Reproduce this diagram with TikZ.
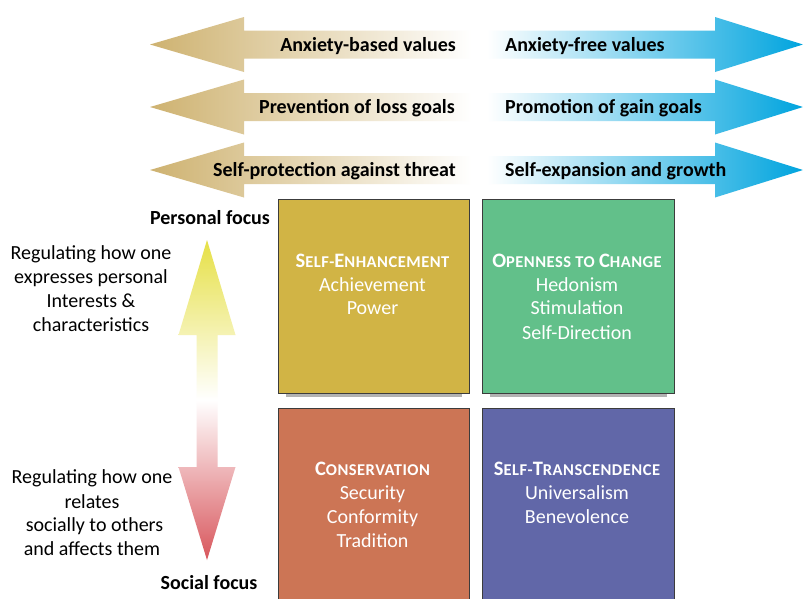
\documentclass[tikz,border=0pt]{standalone}
\usepackage{fontspec}
\setmainfont{Carlito}
\definecolor{tanC}{RGB}{206,178,112}
\definecolor{cyanC}{RGB}{0,164,222}
\definecolor{yelC}{RGB}{230,224,70}
\definecolor{redC}{RGB}{216,86,92}
\definecolor{boxA}{RGB}{209,180,69}
\definecolor{boxB}{RGB}{98,192,138}
\definecolor{boxC}{RGB}{204,117,85}
\definecolor{boxD}{RGB}{97,103,168}
\definecolor{edgeC}{RGB}{60,60,60}
\newcommand{\bigS}[1]{{\fontsize{20.5}{24}\selectfont #1}}
\newcommand{\smS}[1]{{\fontsize{16.5}{24}\selectfont\addfontfeature{LetterSpace=3}#1}}
\tikzset{
  txt/.style={inner sep=0pt, font=\fontsize{20}{24}\selectfont, text=black},
  btxt/.style={txt, font=\fontsize{20}{24}\selectfont\bfseries},
  wtxt/.style={inner sep=0pt, font=\fontsize{20}{24}\selectfont, text=white, anchor=base},
  htxt/.style={inner sep=0pt, font=\bfseries, text=white, anchor=base},
  quad/.style={draw=edgeC, line width=0.9pt},
}
\begin{document}
\begin{tikzpicture}[x=1pt,y=-1pt]
\clip (0,0) rectangle (803,598);
\fill[white] (0,0) rectangle (803,598);
% horizontal arrows
\foreach \c in {44.5,107,170}{
  \shade[left color=tanC, right color=white]
    (150,\c) -- (244,\c-27.5) -- (244,\c-14) -- (472,\c-14) -- (472,\c+14)
    -- (244,\c+14) -- (244,\c+27.5) -- cycle;
  \shade[left color=white, right color=cyanC]
    (487,\c-14) -- (715,\c-14) -- (715,\c-27.5) -- (803,\c) -- (715,\c+27.5)
    -- (715,\c+14) -- (487,\c+14) -- cycle;
}
\node[btxt, anchor=base east] (l1) at (456,51) {Anxiety-based values};
\node[btxt, anchor=base east] (l2) at (455,113.5) {Prevention of loss goals};
\node[btxt, anchor=base east] (l3) at (456,176.5) {Self-protection against threat};
\node[btxt, anchor=base west] (r1) at (505,51) {Anxiety-free values};
\node[btxt, anchor=base west] (r2) at (505,113.5) {Promotion of gain goals};
\node[btxt, anchor=base west] (r3) at (505,176.5) {Self-expansion and growth};
% shadows under top boxes
\fill[black!30] (286,393) rectangle (462,396.5);
\fill[black!30] (490,393) rectangle (667,396.5);
% boxes
\node[quad, fill=boxA, minimum width=191pt, minimum height=194pt, anchor=north west, inner sep=0pt] (se) at (278,199) {};
\node[quad, fill=boxB, minimum width=192pt, minimum height=194pt, anchor=north west, inner sep=0pt] (oc) at (482,199) {};
\node[quad, fill=boxC, minimum width=191pt, minimum height=200pt, anchor=north west, inner sep=0pt] (co) at (278,408) {};
\node[quad, fill=boxD, minimum width=192pt, minimum height=200pt, anchor=north west, inner sep=0pt] (st) at (482,408) {};
% box texts
\node[htxt] (seh) at (372.5,267) {\bigS{S}\smS{ELF-}\bigS{E}\smS{NHANCEMENT}};
\node[wtxt] (se1) at (372.5,291) {Achievement};
\node[wtxt] (se2) at (372.5,314.5) {Power};
\node[htxt] (och) at (577,267) {\bigS{O}\smS{PENNESS TO }\bigS{C}\smS{HANGE}};
\node[wtxt] (oc1) at (577,291) {Hedonism};
\node[wtxt] (oc2) at (577,314.5) {Stimulation};
\node[wtxt] (oc3) at (577,339) {Self-Direction};
\node[htxt] (coh) at (372.5,475) {\bigS{C}\smS{ONSERVATION}};
\node[wtxt] (co1) at (372.5,499) {Security};
\node[wtxt] (co2) at (372.5,523) {Conformity};
\node[wtxt] (co3) at (372.5,547) {Tradition};
\node[htxt] (sth) at (577,475) {\bigS{S}\smS{ELF-}\bigS{T}\smS{RANSCENDENCE}};
\node[wtxt] (st1) at (577,499) {Universalism};
\node[wtxt] (st2) at (577,523) {Benevolence};
% vertical arrow
\shade[top color=yelC, bottom color=redC, middle color=white]
  (207,240) -- (235.5,335) -- (217.5,335) -- (217.5,467) -- (235.5,467) -- (207,560)
  -- (178.5,467) -- (196.5,467) -- (196.5,335) -- (178.5,335) -- cycle;
\node[btxt, anchor=base] (pf) at (210,224) {Personal focus};
\node[btxt, anchor=base] (sf) at (209,589) {Social focus};
\node[txt, anchor=base] (u1) at (91,259) {Regulating how one};
\node[txt, anchor=base] (u2) at (91,283) {expresses personal};
\node[txt, anchor=base] (u3) at (91,307) {Interests \&};
\node[txt, anchor=base] (u4) at (91,331) {characteristics};
\node[txt, anchor=base] (d1) at (92,483.5) {Regulating how one};
\node[txt, anchor=base] (d2) at (92,508) {relates};
\node[txt, anchor=base] (d3) at (94.5,531.5) {socially to others};
\node[txt, anchor=base] (d4) at (92,555.5) {and affects them};
\end{tikzpicture}
\end{document}
